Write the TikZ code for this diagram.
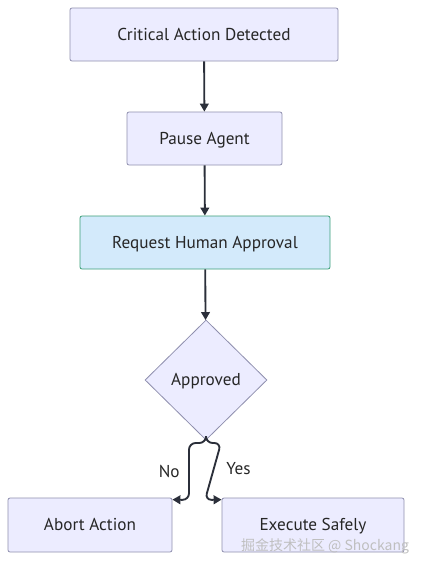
\documentclass[tikz,border=0pt]{standalone}
\usepackage{fontspec}
\setmainfont{PT Sans}
\newfontfamily\cjkfont{Noto Sans CJK SC}
\usetikzlibrary{shapes.geometric,arrows.meta}
\definecolor{boxfill}{HTML}{ECECFF}
\definecolor{boxline}{HTML}{8F8FAE}
\definecolor{askfill}{HTML}{D3EAFB}
\definecolor{askline}{HTML}{3A9E78}
\definecolor{flowline}{HTML}{2B2F3A}
\begin{document}
\begin{tikzpicture}[x=.75pt, y=-.75pt,
    label text/.style={font=\fontsize{12.9}{15}\selectfont, text=black!85},
    stepbox/.style={draw=boxline, fill=boxfill, rounded corners=1.5pt, line width=.6pt,
      minimum height=39.75pt, text height=2ex, text depth=.25ex, label text},
    askbox/.style={stepbox, draw=askline, fill=askfill},
    choice/.style={diamond, draw=boxline, fill=boxfill, line width=.6pt, inner sep=0pt,
      minimum width=91.5pt, minimum height=90pt, text height=2ex, text depth=.25ex, label text},
    flow/.style={draw=flowline, line width=1.4pt, -{Triangle[length=6pt, width=6.5pt]}}]
  \useasboundingbox (0,0) rectangle (421,569);
  \node [stepbox, minimum width=201pt] (detect) at (204,34.5) {Critical Action Detected};
  \node [stepbox, minimum width=116.25pt] (pause) at (204.5,138.5) {Pause Agent};
  \node [askbox, minimum width=187.5pt] (ask) at (205,242.5) {Request Human Approval};
  \node [choice] (ok) at (206,380) {Approved};
  \node [stepbox, minimum width=123pt, minimum height=40.5pt] (abort) at (90,525) {Abort Action};
  \node [stepbox, minimum width=136.5pt, minimum height=40.5pt] (exec) at (313,525) {Execute Safely};
  \draw [flow] (detect) -- (pause);
  \draw [flow] (pause) -- (ask);
  \draw [flow] (ask) -- (ok);
  % the two answers leave the lower tip and bend to the boxes
  \draw [flow, rounded corners=5pt] (ok.south) |- (189,443)
    -- node [left=3pt, label text] {No} (189,500)
    -- ([shift={(0,2)}]abort.north east);
  \draw [flow, rounded corners=5pt] (ok.south) |- (221,443)
    -- node [right=6pt, yshift=2pt, label text] {Yes} (205,500)
    -- ([shift={(0,2)}]exec.north west);
  \node [font=\cjkfont\fontsize{10.5}{12}\selectfont, text=black!25] (mark) at (325,546)
    {掘金技术社区 @ Shockang};
\end{tikzpicture}
\end{document}
